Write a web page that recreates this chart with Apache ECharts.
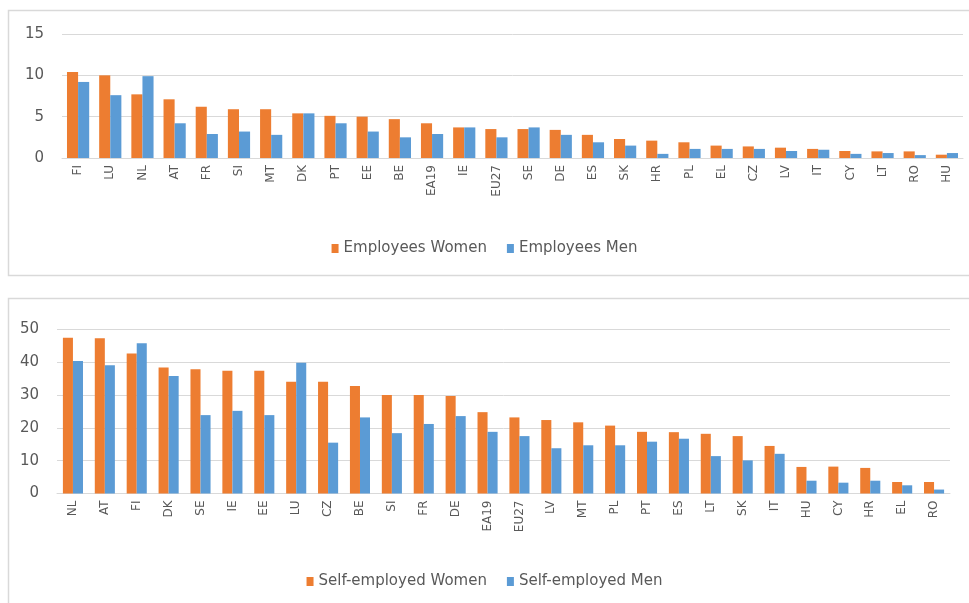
<!DOCTYPE html>
<html>
<head>
<meta charset="utf-8">
<script src="https://cdn.jsdelivr.net/npm/echarts@6/dist/echarts.min.js"></script>
<style>
  html, body { margin: 0; padding: 0; background: #ffffff; }
  #chart { width: 969px; height: 603px; }
</style>
</head>
<body>
<div id="chart"></div>
<script>
// Employees panel
const employeeCountries = ['FI','LU','NL','AT','FR','SI','MT','DK','PT','EE','BE','EA19','IE','EU27','SE','DE','ES','SK','HR','PL','EL','CZ','LV','IT','CY','LT','RO','HU'];
const employeesWomen = [10.4,10.0,7.7,7.1,6.2,5.9,5.9,5.4,5.1,5.0,4.7,4.2,3.7,3.5,3.5,3.4,2.8,2.3,2.1,1.9,1.5,1.4,1.25,1.1,0.85,0.8,0.8,0.4];
const employeesMen = [9.2,7.6,9.9,4.2,2.9,3.2,2.8,5.4,4.2,3.2,2.5,2.9,3.7,2.5,3.7,2.8,1.9,1.5,0.5,1.1,1.1,1.1,0.85,1.0,0.5,0.6,0.35,0.6];
const employeeTicks = { min: 0, max: 15, step: 5 };

// Self-employed panel
const selfCountries = ['NL','AT','FI','DK','SE','IE','EE','LU','CZ','BE','SI','FR','DE','EA19','EU27','LV','MT','PL','PT','ES','LT','SK','IT','HU','CY','HR','EL','RO'];
const selfWomen = [47.5,47.3,42.7,38.4,37.9,37.4,37.4,34.1,34.1,32.8,30.0,30.0,29.7,24.8,23.2,22.4,21.7,20.7,18.8,18.7,18.2,17.5,14.5,8.1,8.2,7.8,3.5,3.5];
const selfMen = [40.4,39.1,45.8,35.8,23.9,25.2,23.9,39.9,15.5,23.2,18.4,21.2,23.6,18.8,17.5,13.8,14.7,14.7,15.8,16.7,11.4,10.1,12.1,3.9,3.3,3.9,2.5,1.2];
const selfTicks = { min: 0, max: 50, step: 10 };

const ORANGE = '#ED7D31';
const BLUE = '#5B9BD5';
const TEXT = '#595959';
const GRIDLINE = '#d9d9d9';
const FONT = 'DejaVu Sans';

function categoryAxis(gridIndex, data) {
  return {
    type: 'category',
    gridIndex: gridIndex,
    data: data,
    axisTick: { show: false },
    axisLine: { show: true, lineStyle: { color: GRIDLINE, width: 1 } },
    axisLabel: { rotate: 90, color: TEXT, fontFamily: FONT, fontSize: 12, margin: 7, interval: 0 }
  };
}

function valueAxis(gridIndex, ticks) {
  return {
    type: 'value',
    gridIndex: gridIndex,
    min: ticks.min,
    max: ticks.max,
    interval: ticks.step,
    axisLine: { show: false },
    axisTick: { show: false },
    splitLine: { lineStyle: { color: GRIDLINE, width: 1 } },
    axisLabel: { color: TEXT, fontFamily: FONT, fontSize: 15, margin: 18 }
  };
}

function barSeries(name, data, color, xi, gap) {
  return {
    name: name,
    type: 'bar',
    xAxisIndex: xi,
    yAxisIndex: xi,
    data: data,
    barGap: '0%',
    barCategoryGap: gap,
    itemStyle: { color: color },
    emphasis: { disabled: true },
    animation: false
  };
}

const chart = echarts.init(document.getElementById('chart'), null, { renderer: 'canvas' });
chart.setOption({
  animation: false,
  backgroundColor: '#ffffff',
  graphic: [
    { type: 'rect', shape: { x: 8.5, y: 10.5, width: 975, height: 265 }, style: { fill: 'none', stroke: GRIDLINE, lineWidth: 1.5 }, silent: true },
    { type: 'rect', shape: { x: 8.5, y: 298.5, width: 975, height: 330 }, style: { fill: 'none', stroke: GRIDLINE, lineWidth: 1.5 }, silent: true }
  ],
  legend: [
    {
      data: ['Employees Women', 'Employees Men'],
      top: 236, left: 'center',
      itemWidth: 7, itemHeight: 9, itemGap: 20, icon: 'rect',
      textStyle: { color: TEXT, fontFamily: FONT, fontSize: 15 }
    },
    {
      data: ['Self-employed Women', 'Self-employed Men'],
      top: 569, left: 'center',
      itemWidth: 7, itemHeight: 9, itemGap: 20, icon: 'rect',
      textStyle: { color: TEXT, fontFamily: FONT, fontSize: 15 }
    }
  ],
  grid: [
    { left: 62, right: 6, top: 34, height: 124 },
    { left: 57, right: 19, top: 329.5, height: 164 }
  ],
  xAxis: [categoryAxis(0, employeeCountries), categoryAxis(1, selfCountries)],
  yAxis: [valueAxis(0, employeeTicks), valueAxis(1, selfTicks)],
  series: [
    barSeries('Employees Women', employeesWomen, ORANGE, 0, '31%'),
    barSeries('Employees Men', employeesMen, BLUE, 0, '31%'),
    barSeries('Self-employed Women', selfWomen, ORANGE, 1, '37%'),
    barSeries('Self-employed Men', selfMen, BLUE, 1, '37%')
  ]
});
</script>
</body>
</html>
